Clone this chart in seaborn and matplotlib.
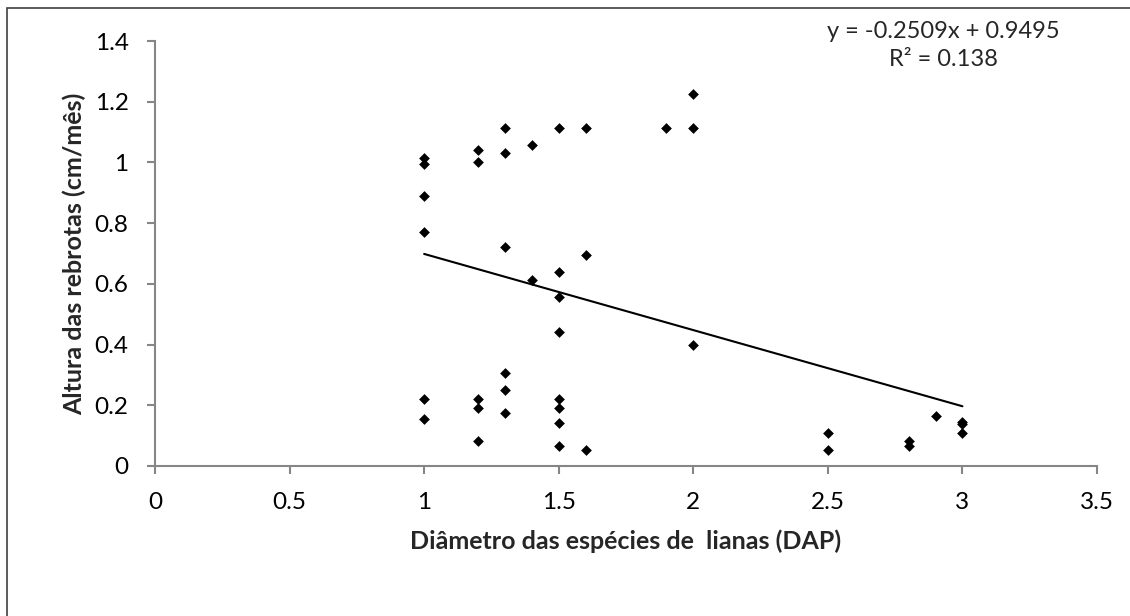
import matplotlib
matplotlib.use('Agg')
import matplotlib.pyplot as plt
import seaborn as sns
import numpy as np
import pandas as pd
from matplotlib.patches import Rectangle

# Dados
dap = [1, 1, 1, 1, 1, 1,
       1.2, 1.2, 1.2, 1.2, 1.2,
       1.3, 1.3, 1.3, 1.3, 1.3, 1.3,
       1.4, 1.4,
       1.5, 1.5, 1.5, 1.5, 1.5, 1.5, 1.5, 1.5,
       1.6, 1.6, 1.6,
       1.9,
       2.0, 2.0, 2.0,
       2.5, 2.5,
       2.8, 2.8,
       2.9,
       3.0, 3.0, 3.0]
altura = [1.013, 0.995, 0.890, 0.772, 0.221, 0.155,
          1.040, 1.001, 0.221, 0.192, 0.081,
          1.112, 1.030, 0.722, 0.305, 0.250, 0.173,
          1.057, 0.612,
          1.112, 0.640, 0.556, 0.443, 0.221, 0.192, 0.142, 0.066,
          1.112, 0.695, 0.053,
          1.112,
          1.224, 1.112, 0.399,
          0.110, 0.054,
          0.083, 0.066,
          0.166,
          0.145, 0.137, 0.110]

# Linha de tendência (Excel)
inclinacao = -0.2509
intercepto = 0.9495
equacao = 'y = -0.2509x + 0.9495'
r2 = 'R² = 0.138'

df = pd.DataFrame({'dap': dap, 'altura': altura})
x_tend = np.array([min(dap), max(dap)])
tend = pd.DataFrame({'dap': x_tend, 'altura': inclinacao * x_tend + intercepto})

sns.set_style('white')
plt.rcParams['font.family'] = ['Lato', 'DejaVu Sans']

fig = plt.figure(figsize=(11.3, 6.16), dpi=100)
ax = fig.add_axes([155 / 1130, 1 - 466 / 616, (1097 - 155) / 1130, (466 - 41) / 616])

sns.lineplot(data=tend, x='dap', y='altura', ax=ax, color='black', linewidth=1.5)
sns.scatterplot(data=df, x='dap', y='altura', ax=ax, marker='D', s=30,
                color='black', linewidth=0, zorder=3)

ax.set_xlim(0, 3.5)
ax.set_ylim(0, 1.4)
ax.set_xticks([0, 0.5, 1, 1.5, 2, 2.5, 3, 3.5])
ax.set_xticklabels(['0', '0.5', '1', '1.5', '2', '2.5', '3', '3.5'])
ax.set_yticks([0, 0.2, 0.4, 0.6, 0.8, 1, 1.2, 1.4])
ax.set_yticklabels(['0', '0.2', '0.4', '0.6', '0.8', '1', '1.2', '1.4'])

cinza = '#868686'
for lado in ['top', 'right']:
    ax.spines[lado].set_visible(False)
for lado in ['left', 'bottom']:
    ax.spines[lado].set_color(cinza)
    ax.spines[lado].set_linewidth(1.5)
ax.tick_params(axis='both', which='major', direction='out', length=6, width=1.5,
               color=cinza, labelsize=17.5, labelcolor='black')
ax.tick_params(axis='x', pad=13, bottom=True)
ax.tick_params(axis='y', pad=13, left=True)

ax.set_xlabel('Diâmetro das espécies de  lianas (DAP)', fontsize=18,
              fontweight='bold', va='center')
ax.set_ylabel('Altura das rebrotas (cm/mês)', fontsize=18,
              fontweight='bold', va='center')
ax.xaxis.set_label_coords(0.5, -0.176)
ax.yaxis.set_label_coords(-0.086, 0.5)

fig.text(943 / 1130, 1 - 31 / 616, equacao, ha='center', va='center', fontsize=17)
fig.text(943 / 1130, 1 - 59 / 616, r2, ha='center', va='center', fontsize=17)

# Moldura da área do gráfico
fig.patches.append(Rectangle((7 / 1130, -0.1), 1.2, 1 - 8 / 616 + 0.1,
                             transform=fig.transFigure, fill=False,
                             edgecolor='#404040', linewidth=1.2))

fig.savefig('out.png', dpi=100)
